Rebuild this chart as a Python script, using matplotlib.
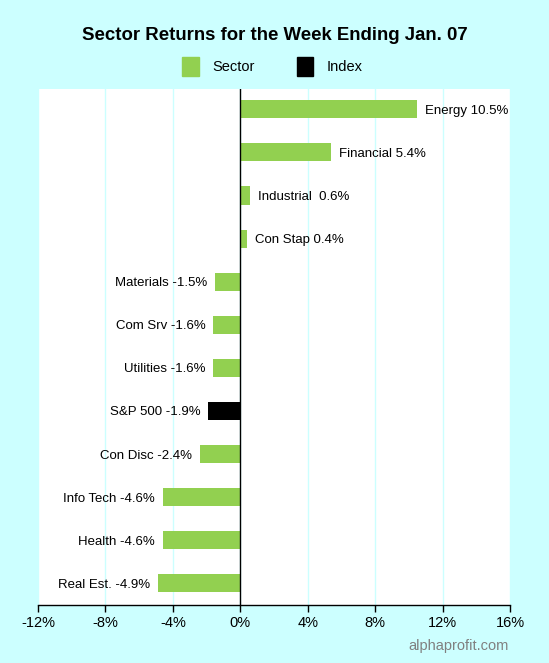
import numpy as np
import matplotlib.pyplot as plt
from matplotlib.patches import Patch

# data, top to bottom
labels = ["Energy", "Financial", "Industrial ", "Con Stap", "Materials", "Com Srv",
          "Utilities", "S&P 500", "Con Disc", "Info Tech", "Health", "Real Est."]
returns = [10.5, 5.4, 0.6, 0.4, -1.5, -1.6, -1.6, -1.9, -2.4, -4.6, -4.6, -4.9]
kinds = ["Sector"] * 7 + ["Index"] + ["Sector"] * 4
x_ticks = [-12, -8, -4, 0, 4, 8, 12, 16]

GREEN = "#92D050"
BG = "#CCFFFF"
colors = {"Sector": GREEN, "Index": "black"}

plt.rcParams['font.family'] = ['Liberation Sans', 'DejaVu Sans']

fig = plt.figure(figsize=(5.49, 6.63), dpi=100, facecolor=BG)
ax = fig.add_axes([0.0692, 0.0875, 0.8597, 0.7783])
ax.set_facecolor("white")

n = len(labels)
ypos = np.arange(n)[::-1]
ax.barh(ypos, returns, height=0.42, color=[colors[k] for k in kinds], zorder=3)

for y, v, lab in zip(ypos, returns, labels):
    txt = f"{lab} {v:.1f}%"
    if v >= 0:
        ax.text(v + 0.45, y, txt, va="center_baseline", ha="left", fontsize=9.5, zorder=4)
    else:
        ax.text(v - 0.45, y, txt, va="center_baseline", ha="right", fontsize=9.5, zorder=4)

ax.axvline(0, color="black", lw=1, zorder=4)
ax.set_xlim(-12, 16)
ax.set_ylim(-0.5, 11.47)
ax.set_xticks(x_ticks)
ax.set_xticklabels([f"{t}%" for t in x_ticks], fontsize=10.5)
ax.set_yticks([])
ax.grid(axis="x", color=BG, lw=1, zorder=0)
for s in ["left", "right", "top"]:
    ax.spines[s].set_visible(False)
ax.spines["bottom"].set_linewidth(1)
ax.tick_params(axis="x", length=5, width=1, pad=3)

fig.text(0.5, 0.946, "Sector Returns for the Week Ending Jan. 07", ha="center", va="center",
         fontsize=13.4, fontweight="bold")

handles = [Patch(color=GREEN, label="Sector"), Patch(color="black", label="Index")]
fig.legend(handles=handles, loc="center", bbox_to_anchor=(0.496, 0.9), ncol=2, frameon=False,
           fontsize=10.5, handlelength=1.15, handleheight=1.6, columnspacing=2.9, handletextpad=0.9)

fig.text(0.926, 0.025, "alphaprofit.com", ha="right", va="center", fontsize=10.5, color="#808080")

fig.savefig("out.png", dpi=100, facecolor=BG)
